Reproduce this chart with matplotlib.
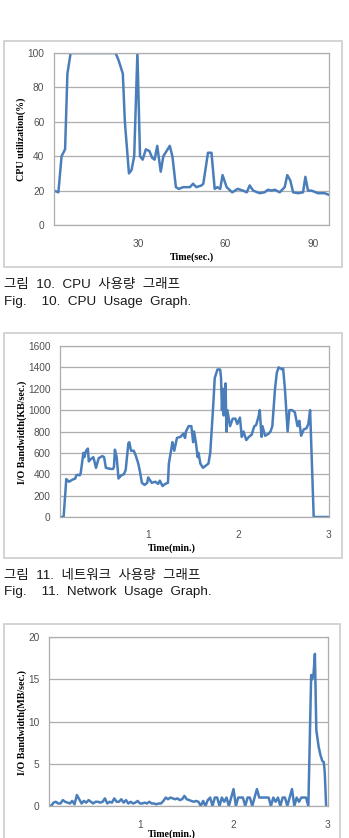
import numpy as np
import matplotlib
matplotlib.use("Agg")
import matplotlib.pyplot as plt
from matplotlib.patches import Rectangle

W, H = 349, 838
LINE = "#4A7EBB"
GRID = "#ADADAD"

"""
data read off the three figures
"""
# Fig 10: CPU utilization (%) vs time (sec)
cpu_t = [1.2, 2.7, 3.8, 5.0, 5.8, 6.9, 22.3, 23.3, 24.8, 25.5, 26.9, 27.8, 28.7,
         29.8, 30.7, 31.6, 32.7, 33.9, 34.9, 35.7, 36.6, 37.8, 38.7, 40.9, 41.8,
         43.0, 44.0, 45.5, 47.8, 48.9, 50.0, 51.8, 52.4, 54.0, 55.2, 56.3, 57.2,
         58.2, 59.0, 60.4, 62.3, 64.2, 66.0, 67.3, 68.3, 69.5, 71.7, 73.4, 74.6,
         75.7, 76.9, 78.6, 80.3, 81.2, 82.2, 83.2, 84.9, 86.6, 87.4, 88.3, 89.5,
         91.7, 94.0, 95.5]
cpu_v = [20, 19, 40, 44, 88, 100, 100, 96, 88, 60, 30, 32, 40,
         100, 40, 38, 44, 43, 39, 38, 46, 31, 40, 46, 40,
         22, 21, 22, 22, 24, 22, 23, 24, 42, 42, 21, 22,
         21, 29, 22, 19, 21, 20, 19, 23, 20, 18.5, 19, 20.5,
         20, 20.5, 19, 22, 29, 26, 19, 18.5, 19, 28, 20, 20,
         18.5, 18.5, 17.5]

# Fig 11: network I/O bandwidth (KB/sec) vs time (min)
net_t = [0.02, 0.06, 0.09, 0.12, 0.16, 0.19, 0.2, 0.22, 0.24, 0.25, 0.28, 0.29,
         0.31, 0.33, 0.34, 0.36, 0.39, 0.4, 0.42, 0.45, 0.49, 0.51, 0.53, 0.58,
         0.61, 0.62, 0.63, 0.65, 0.67, 0.70, 0.73, 0.75, 0.78, 0.79, 0.81, 0.84,
         0.86, 0.89, 0.91, 0.93, 0.96, 0.99, 1.0, 1.04, 1.08, 1.11, 1.13, 1.16,
         1.19, 1.22, 1.23, 1.26, 1.27, 1.29, 1.32, 1.36, 1.39, 1.41, 1.42, 1.45,
         1.48, 1.5, 1.51, 1.53, 1.55, 1.56, 1.58, 1.61, 1.64, 1.67, 1.69, 1.72,
         1.74, 1.77, 1.80, 1.81, 1.82, 1.83, 1.84, 1.86, 1.87, 1.88, 1.91, 1.94,
         1.97, 1.99, 2.02, 2.04, 2.06, 2.09, 2.12, 2.15, 2.18, 2.2, 2.23, 2.24,
         2.26, 2.27, 2.3, 2.34, 2.36, 2.38, 2.41, 2.43, 2.45, 2.49, 2.5, 2.52,
         2.55, 2.57, 2.6, 2.63, 2.66, 2.68, 2.7, 2.73, 2.76, 2.78, 2.8, 2.84, 3.0]
net_v = [0, 0, 355, 330, 350, 360, 390, 395, 390, 410, 600, 560,
         620, 640, 520, 540, 560, 530, 460, 550, 570, 560, 460, 450,
         450, 470, 630, 560, 360, 390, 400, 440, 690, 700, 620, 620,
         580, 500, 420, 320, 300, 320, 370, 320, 330, 310, 340, 290,
         310, 320, 500, 650, 700, 620, 740, 750, 780, 740, 800, 850,
         850, 700, 800, 700, 560, 600, 500, 460, 480, 500, 600, 1000,
         1300, 1380, 1380, 1300, 1000, 1200, 950, 1250, 800, 1000, 850, 920,
         920, 870, 930, 750, 800, 720, 750, 770, 850, 860, 950, 1000,
         750, 850, 760, 780, 800, 850, 1200, 1350, 1400, 1380, 1390, 1200,
         800, 1000, 1000, 980, 850, 900, 760, 820, 830, 870, 1000, 0, 0]

# Fig 12 (cut off): disk I/O bandwidth (MB/sec), sampled every 0.025 min up to 2.8
disk_v = [0.5, 0.1, 0.0, 0.4, 0.5, 0.3, 0.3, 0.7, 0.5, 0.4, 0.3,
          0.6, 0.2, 1.3, 0.8, 0.3, 0.6, 0.4, 0.7, 0.5, 0.3,
          0.5, 0.5, 0.4, 0.5, 0.9, 0.3, 0.5, 0.4, 0.9, 0.5,
          0.5, 0.8, 0.4, 0.7, 0.3, 0.5, 0.3, 0.4, 0.6, 0.3,
          0.3, 0.4, 0.3, 0.5, 0.3, 0.3, 0.2, 0.3, 0.3, 0.6,
          1.0, 0.8, 1.0, 0.9, 0.8, 0.9, 0.7, 0.8, 1.2, 0.8,
          0.7, 0.6, 0.5, 0.6, 0.5, 0.0, 0.6, 0.0, 0.7, 1.0,
          0.0, 1.0, 1.0, 0.0, 1.0, 0.5, 1.0, 0.0, 1.0, 2.0,
          0.0, 1.0, 1.0, 1.0, 0.0, 1.0, 1.0, 0.0, 1.0, 2.0,
          1.0, 1.0, 1.0, 1.0, 1.0, 0.0, 1.0, 0.5, 1.0, 0.0,
          1.0, 1.0, 0.0, 1.0, 2.0, 0.0, 1.0, 0.5, 1.0, 1.0,
          1.0, 0.0]
disk_t = list(np.arange(len(disk_v)) * 0.025)
# the burst at the end
burst_t = [2.83, 2.84, 2.855, 2.87, 2.885, 2.91, 2.93, 2.95, 2.965, 2.975, 2.99]
burst_v = [15.5, 15.0, 15.6, 18.0, 9.0, 7.0, 6.0, 5.3, 5.2, 4.0, 0.0]

captions = [
    ("그림  10.  CPU  사용량  그래프", "Fig.    10.  CPU  Usage  Graph."),
    ("그림  11.  네트워크  사용량  그래프", "Fig.    11.  Network  Usage  Graph."),
]

"""
figure helpers, all in pixels
"""
fig = plt.figure(figsize=(W / 100, H / 100), dpi=100)
fig.patch.set_facecolor("white")


def px_axes(left, top, right, bottom):
    return fig.add_axes([left / W, 1 - bottom / H, (right - left) / W, (bottom - top) / H])


def px_text(x, y, s, **kw):
    fig.text(x / W, 1 - y / H, s, **kw)


def frame(left, top, right, bottom):
    fig.patches.append(Rectangle((left / W, 1 - bottom / H), (right - left) / W, (bottom - top) / H,
                                 transform=fig.transFigure, fill=False, edgecolor="#D0D0D0", lw=1.3))


def style(ax, xlim, ylim, yticks, xticks, xlabels, xpad):
    ax.set_xlim(*xlim)
    ax.set_ylim(*ylim)
    ax.set_yticks(yticks)
    ax.set_xticks(xticks)
    ax.set_xticklabels(xlabels)
    ax.yaxis.grid(True, color=GRID, lw=0.9)
    ax.set_axisbelow(True)
    for s in ax.spines.values():
        s.set_color(GRID)
        s.set_linewidth(0.9)
    ax.tick_params(length=0, labelsize=7.3, labelcolor="#505050")
    ax.tick_params(axis="y", pad=7)
    ax.tick_params(axis="x", pad=xpad)
    for lab in ax.get_xticklabels() + ax.get_yticklabels():
        lab.set_family("Liberation Sans")


label_font = dict(family="Liberation Serif", weight="bold", size=7.2, color="black")
cap_font = dict(family=["Liberation Sans", "Noto Sans CJK KR"], size=9.7, color="#1a1a1a")

# ---- Fig 10
frame(4, 41, 342, 267)
ax1 = px_axes(54, 53, 329, 225)
ax1.plot(cpu_t, cpu_v, color=LINE, lw=1.8)
style(ax1, (1.2, 95.5), (0, 100), range(0, 101, 20), [30, 60, 90], ["30", "60", "90"], 10)
px_text(21, 139, "CPU utilization(%)", rotation=90, ha="center", va="center", **label_font)
px_text(192, 257, "Time(sec.)", ha="center", va="center", **label_font)
px_text(4, 285, captions[0][0], ha="left", va="center", **cap_font)
px_text(4, 302, captions[0][1], ha="left", va="center", **cap_font)

# ---- Fig 11
frame(4, 333, 342, 558)
ax2 = px_axes(60, 346, 329, 517)
ax2.plot(net_t, net_v, color=LINE, lw=1.8)
style(ax2, (0.02, 3.01), (0, 1600), range(0, 1601, 200), [1, 2, 3], ["1", "2", "3"], 9)
px_text(22, 432, "I/O Bandwidth(KB/sec.)", rotation=90, ha="center", va="center", **label_font)
px_text(172, 548, "Time(min.)", ha="center", va="center", **label_font)
px_text(4, 576, captions[1][0], ha="left", va="center", **cap_font)
px_text(4, 592, captions[1][1], ha="left", va="center", **cap_font)

# ---- Fig 12 (bottom cut off in the page)
frame(4, 624, 340, 860)
ax3 = px_axes(49, 637, 328, 806)
ax3.plot(disk_t + burst_t, disk_v + burst_v, color=LINE, lw=1.8)
style(ax3, (0.027, 3.01), (0, 20), range(0, 21, 5), [1, 2, 3], ["1", "2", "3"], 10)
px_text(22, 722, "I/O Bandwidth(MB/sec.)", rotation=90, ha="center", va="center", **label_font)
px_text(172, 834, "Time(min.)", ha="center", va="center", **label_font)

fig.savefig("out.png", dpi=100, facecolor="white")
